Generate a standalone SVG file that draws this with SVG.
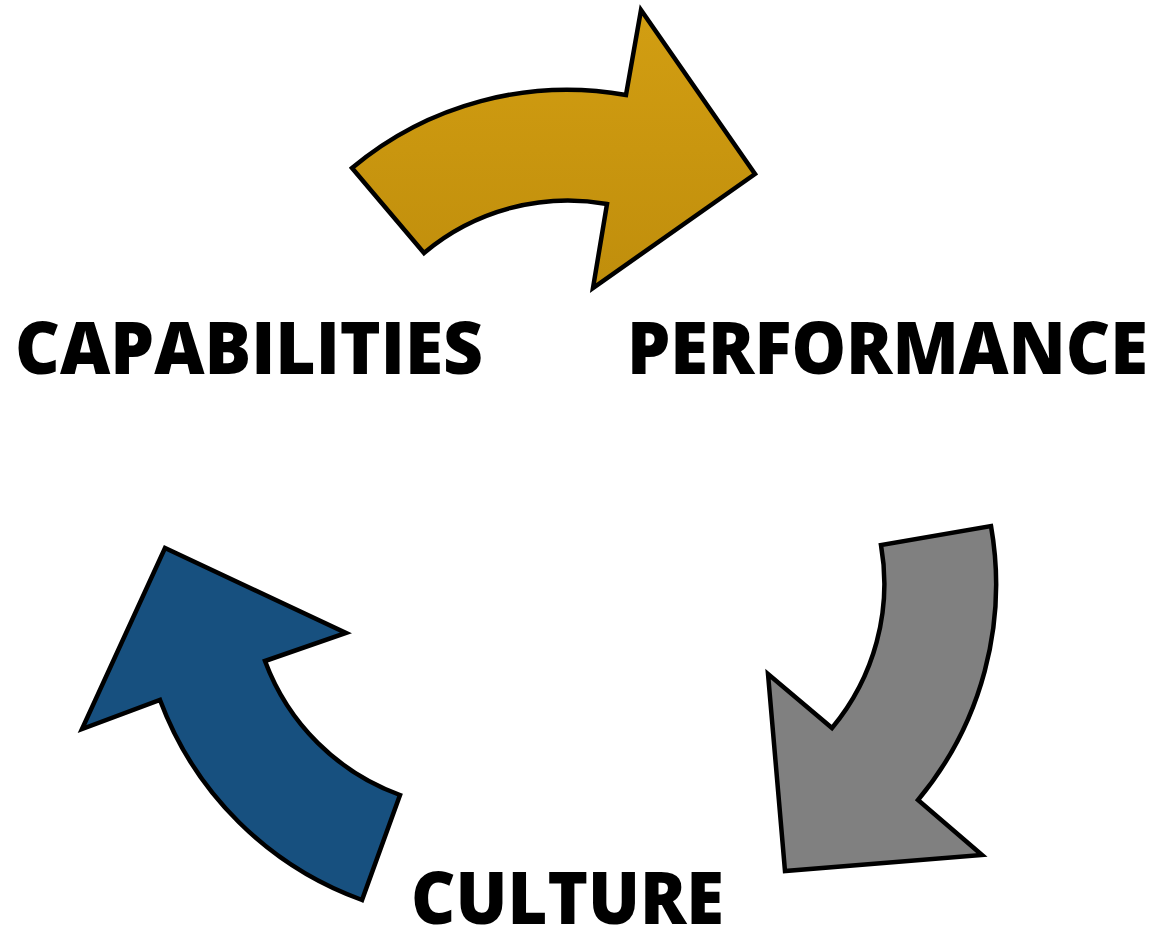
<svg xmlns="http://www.w3.org/2000/svg" width="1156" height="930" viewBox="0 0 1156 930">
<defs>
<linearGradient id="goldGrad" x1="0" y1="0" x2="0" y2="1">
<stop offset="0" stop-color="#D29E12"/>
<stop offset="1" stop-color="#C08E0C"/>
</linearGradient>
</defs>
<style>
.arrow{stroke:#000;stroke-width:4.5;stroke-linejoin:miter;stroke-miterlimit:10}
.label{font-family:"Open Sans","Liberation Sans",sans-serif;font-weight:800;font-size:72px;fill:#000}
</style>
<rect width="1156" height="930" fill="#fff"/>
<g id="connectors">
<path id="arrow-performance" class="arrow" fill="url(#goldGrad)" d="M352,168 A335,335 0 0 1 626,95 L641,10 L755,174 L593,288 L607,204 A224,224 0 0 0 424,253 Z"/>
<path id="arrow-culture" class="arrow" fill="#808080" d="M991,526 A337,337 0 0 1 918,800 L982,855 L785,871 L768,674 L832,728 A225,225 0 0 0 881,545 Z"/>
<path id="arrow-capabilities" class="arrow" fill="#17507F" d="M400,795 A226,226 0 0 1 265,661 L346,633 L165,548 L82,729 L160,700 A338,338 0 0 0 362,900 Z"/>
</g>
<g id="node-capabilities">
<text class="label" x="15" y="374" textLength="468" lengthAdjust="spacingAndGlyphs">CAPABILITIES</text>
</g>
<g id="node-performance">
<text class="label" x="627" y="374" textLength="521" lengthAdjust="spacingAndGlyphs">PERFORMANCE</text>
</g>
<g id="node-culture">
<text class="label" x="411" y="924" textLength="313" lengthAdjust="spacingAndGlyphs">CULTURE</text>
</g>
</svg>
